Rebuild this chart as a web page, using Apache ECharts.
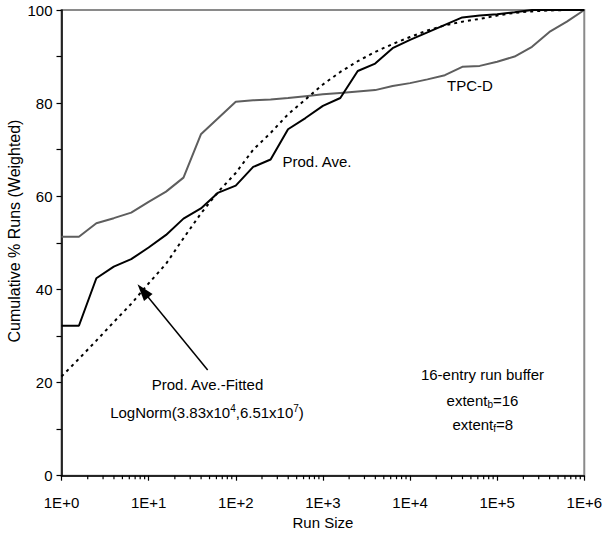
<!DOCTYPE html>
<html>
<head>
<meta charset="utf-8">
<script src="https://cdn.jsdelivr.net/npm/echarts@6/dist/echarts.min.js"></script>
<style>html,body{margin:0;padding:0;background:#fff;}#c{width:605px;height:536px;}</style>
</head>
<body>
<div id="c"></div>
<script>
// Run sizes (x, log scale)
var runSizes = [1, 1.585, 2.512, 3.981, 6.31, 10, 15.85, 25.12, 39.81, 63.1, 100, 158.5, 251.2, 398.1, 631, 1000, 1585, 2512, 3981, 6310, 10000, 15850, 25120, 39810, 63100, 100000, 158500, 251200, 398100, 631000, 1000000];
// Cumulative % runs (weighted)
var prodAve = [32.2, 32.2, 42.4, 44.9, 46.5, 49.0, 51.7, 55.2, 57.4, 60.8, 62.3, 66.3, 67.9, 74.4, 76.8, 79.4, 81.1, 86.9, 88.5, 91.8, 93.6, 95.2, 96.8, 98.4, 98.8, 99.1, 99.5, 100, 100, 100, 100];
var tpcD = [51.3, 51.3, 54.2, 55.3, 56.5, 58.8, 61.0, 64.0, 73.3, 76.8, 80.3, 80.6, 80.8, 81.1, 81.5, 81.9, 82.2, 82.5, 82.8, 83.7, 84.3, 85.1, 86.0, 87.8, 88.0, 88.9, 90.0, 92.1, 95.3, 97.5, 100];
var prodAveFitted = [21.3, 25.1, 29.0, 33.0, 36.9, 41.3, 45.5, 51.0, 56.3, 61.0, 65.0, 70.0, 73.6, 77.6, 80.8, 84.0, 86.7, 89.0, 91.0, 92.7, 94.2, 95.6, 96.7, 97.5, 98.1, 98.8, 99.4, 99.7, 99.9, 100, 100];
// Axis ticks
var xTickLabels = ['1E+0', '1E+1', '1E+2', '1E+3', '1E+4', '1E+5', '1E+6'];
var yTickLabels = ['0', '20', '40', '60', '80', '100'];
var minorMantissas = [2, 3, 4, 5, 6, 7, 8, 9];
var decades = [1, 10, 100, 1000, 10000, 100000];

var FONT = 'Liberation Sans, Arial, Helvetica, sans-serif';

function pairs(xs, ys) { return xs.map(function (x, i) { return [x, ys[i]]; }); }
var minorTicks = [];
decades.forEach(function (d) { minorMantissas.forEach(function (m) { minorTicks.push([m * d, 0]); }); });

var chart = echarts.init(document.getElementById('c'), null, { renderer: 'svg' });
chart.setOption({
  animation: false,
  backgroundColor: '#fff',
  textStyle: { fontFamily: FONT },
  grid: { left: 61.5, right: 18.5, top: 10, bottom: 60.3, show: true, borderColor: '#8a8a8a', borderWidth: 2, backgroundColor: 'transparent' },
  xAxis: {
    type: 'log', logBase: 10, min: 1, max: 1000000, splitNumber: 6,
    name: 'Run Size', nameLocation: 'middle', nameGap: 38,
    nameTextStyle: { fontSize: 15, color: '#000', fontFamily: FONT },
    axisLine: { lineStyle: { color: '#000', width: 1.5 } },
    axisTick: { show: true, length: 5, lineStyle: { color: '#000', width: 1.2 } },
    minorTick: { show: false },
    splitLine: { show: false },
    axisLabel: {
      margin: 19, fontSize: 15, color: '#000', fontFamily: FONT,
      formatter: function (v) { var e = Math.round(Math.log10(v)); return xTickLabels[e] || ''; }
    }
  },
  yAxis: {
    type: 'value', min: 0, max: 100, interval: 10,
    axisLine: { show: true, lineStyle: { color: '#000', width: 1.5 } },
    axisTick: { show: true, length: 5, lineStyle: { color: '#000', width: 1.2 } },
    splitLine: { show: false },
    axisLabel: {
      margin: 9, fontSize: 15, color: '#000', fontFamily: FONT,
      formatter: function (v) { var i = yTickLabels.indexOf(String(v)); return i >= 0 ? yTickLabels[i] : ''; }
    }
  },
  series: [
    {
      name: 'TPC-D', type: 'line', data: pairs(runSizes, tpcD), showSymbol: false, clip: false,
      lineStyle: { color: '#5e5e5e', width: 2 }, z: 3
    },
    {
      name: 'Prod. Ave.-Fitted', type: 'line', data: pairs(runSizes, prodAveFitted), showSymbol: false, clip: false,
      lineStyle: { color: '#000', width: 2, type: [3, 4] }, z: 4,
      markLine: {
        silent: true, symbol: ['none', 'triangle'], symbolSize: [11, 17],
        label: { show: false },
        lineStyle: { color: '#000', width: 1.5, type: 'solid' },
        data: [[{ coord: [47.6, 22.7] }, { coord: [8.6, 39.7] }]]
      }
    },
    {
      name: 'Prod. Ave.', type: 'line', data: pairs(runSizes, prodAve), showSymbol: false, clip: false,
      lineStyle: { color: '#000', width: 2 }, z: 5
    },
    {
      name: 'minorTicks', type: 'custom', data: minorTicks, clip: false, silent: true, z: 6,
      renderItem: function (params, api) {
        var p = api.coord([api.value(0), 0]);
        return { type: 'line', shape: { x1: p[0], y1: p[1], x2: p[0], y2: p[1] + 3.5 }, style: { stroke: '#000', lineWidth: 1.2 } };
      }
    }
  ],
  graphic: [
    { type: 'text', x: 14, y: 231, rotation: Math.PI / 2, style: { text: 'Cumulative % Runs (Weighted)', font: '16px ' + FONT, fill: '#000', textAlign: 'center', textVerticalAlign: 'middle', align: 'center', verticalAlign: 'middle' } },
    { type: 'text', x: 470, y: 85, style: { text: 'TPC-D', font: '15px ' + FONT, fill: '#000', textAlign: 'center', textVerticalAlign: 'middle', align: 'center', verticalAlign: 'middle' } },
    { type: 'text', x: 317, y: 161, style: { text: 'Prod. Ave.', font: '15px ' + FONT, fill: '#000', textAlign: 'center', textVerticalAlign: 'middle', align: 'center', verticalAlign: 'middle' } },
    { type: 'text', x: 207.5, y: 384.5, style: { text: 'Prod. Ave.-Fitted', font: '15px ' + FONT, fill: '#000', textAlign: 'center', textVerticalAlign: 'middle', align: 'center', verticalAlign: 'middle' } },
    { type: 'text', x: 207, y: 412, style: {
        text: 'LogNorm(3.83x10{s|4},6.51x10{s|7})', font: '15px ' + FONT, fill: '#000', textAlign: 'center', textVerticalAlign: 'middle', align: 'center', verticalAlign: 'middle',
        rich: { s: { fontSize: 10, fontFamily: FONT, verticalAlign: 'top', fill: '#000', lineHeight: 17 } } } },
    { type: 'text', x: 482.5, y: 374, style: { text: '16-entry run buffer', font: '15px ' + FONT, fill: '#000', textAlign: 'center', textVerticalAlign: 'middle', align: 'center', verticalAlign: 'middle' } },
    { type: 'text', x: 482.5, y: 400, style: {
        text: 'extent{s|b}=16', font: '15px ' + FONT, fill: '#000', textAlign: 'center', textVerticalAlign: 'middle', align: 'center', verticalAlign: 'middle',
        rich: { s: { fontSize: 10, fontFamily: FONT, verticalAlign: 'bottom', fill: '#000', lineHeight: 19 } } } },
    { type: 'text', x: 482.8, y: 424, style: {
        text: 'extent{s|f}=8', font: '15px ' + FONT, fill: '#000', textAlign: 'center', textVerticalAlign: 'middle', align: 'center', verticalAlign: 'middle',
        rich: { s: { fontSize: 10, fontFamily: FONT, verticalAlign: 'bottom', fill: '#000', lineHeight: 19 } } } }
  ]
});
</script>
</body>
</html>
